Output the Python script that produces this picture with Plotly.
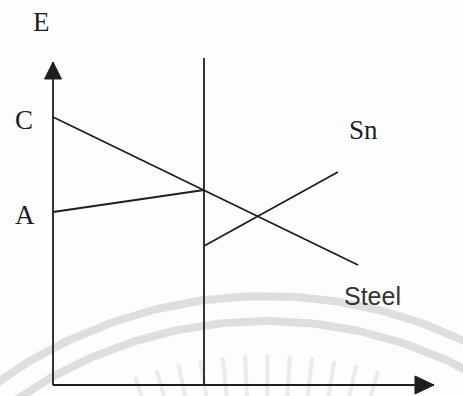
import numpy as np
import plotly.graph_objects as go

# Potential (E) vs. distance across a tin/steel junction.
# x: distance (interface at x = 1), E: potential (arbitrary units)
interface_x = 1.0

steel_x = [0.0, 2.02]
steel_E = [2.68, 1.20]

a_x = [0.0, 1.0]
a_E = [1.73, 1.95]

sn_x = [1.0, 1.887]
sn_E = [1.39, 2.13]

axis_E_top = 3.23      # tip of the E axis arrow
axis_x_end = 2.523     # tip of the distance axis arrow
interface_E_top = 3.27

labels = {"C": (-0.192, 2.65), "A": (-0.185, 1.70)}

# axis scaling (pixels per unit) used for the figure window
W, H = 463, 396
X0_PX, PX_PER_X = 53, 151
Y0_PX, PX_PER_E = 385, 100
x_range = [-X0_PX / PX_PER_X, (W - X0_PX) / PX_PER_X]
E_range = [(Y0_PX - H) / PX_PER_E, Y0_PX / PX_PER_E]


def to_data(px, py):
    px = np.asarray(px, dtype=float)
    py = np.asarray(py, dtype=float)
    return (px - X0_PX) / PX_PER_X, (Y0_PX - py) / PX_PER_E


def to_px(x, e):
    return X0_PX + x * PX_PER_X, Y0_PX - e * PX_PER_E


INK = "#1e1e1e"
fig = go.Figure()

# faint seal printed on the page: two arcs and a fan of rays
cx, cy = 266, 757
for r in (461, 436):
    t = np.linspace(np.radians(-150), np.radians(-20), 300)
    px = cx + r * np.cos(t)
    py = cy + r * np.sin(t)
    xs, es = to_data(px, py)
    fig.add_trace(go.Scatter(x=xs, y=es, mode="lines",
                             line=dict(color="#dedede", width=8),
                             hoverinfo="skip", showlegend=False))
for ang in np.arange(-19, 19, 3.2):
    a = np.radians(ang - 90)
    px = [cx + 360 * np.cos(a), cx + 402 * np.cos(a)]
    py = [cy + 360 * np.sin(a), cy + 402 * np.sin(a)]
    xs, es = to_data(px, py)
    fig.add_trace(go.Scatter(x=xs, y=es, mode="lines",
                             line=dict(color="#ebebeb", width=4),
                             hoverinfo="skip", showlegend=False))

line_style = dict(color=INK, width=1.8)

# axes
fig.add_trace(go.Scatter(x=[0, 0], y=[0, axis_E_top], mode="lines",
                         line=line_style, hoverinfo="skip", showlegend=False))
fig.add_trace(go.Scatter(x=[0, axis_x_end], y=[0, 0], mode="lines",
                         line=line_style, hoverinfo="skip", showlegend=False))

# arrowheads (filled triangles, sized in pixels)
tx, ty = to_px(0, axis_E_top)
xs, es = to_data([tx, tx - 8.5, tx + 8.5, tx], [ty, ty + 17, ty + 17, ty])
fig.add_trace(go.Scatter(x=xs, y=es, mode="lines", fill="toself",
                         fillcolor=INK, line=dict(color=INK, width=1),
                         hoverinfo="skip", showlegend=False))
tx, ty = to_px(axis_x_end, 0)
xs, es = to_data([tx, tx - 19, tx - 19, tx], [ty, ty - 9, ty + 9, ty])
fig.add_trace(go.Scatter(x=xs, y=es, mode="lines", fill="toself",
                         fillcolor=INK, line=dict(color=INK, width=1),
                         hoverinfo="skip", showlegend=False))

# interface
fig.add_trace(go.Scatter(x=[interface_x, interface_x], y=[0, interface_E_top],
                         mode="lines", line=line_style,
                         hoverinfo="skip", showlegend=False))

# potential lines
for xv, ev in ((steel_x, steel_E), (a_x, a_E), (sn_x, sn_E)):
    fig.add_trace(go.Scatter(x=xv, y=ev, mode="lines", line=line_style,
                             hoverinfo="skip", showlegend=False))

serif = dict(family="Liberation Serif", size=27, color=INK)
ann = [
    dict(x=-0.073, y=3.63, text="E", font=serif),
    dict(x=labels["C"][0], y=labels["C"][1], text="C", font=serif),
    dict(x=labels["A"][0], y=labels["A"][1], text="A", font=serif),
    dict(x=2.053, y=2.55, text="Sn", font=serif),
    dict(x=2.113, y=0.89, text="Steel",
         font=dict(family="Liberation Sans", size=25, color="#333")),
]
for a in ann:
    fig.add_annotation(showarrow=False, xanchor="center", yanchor="middle", **a)

fig.update_layout(
    width=W, height=H,
    margin=dict(l=0, r=0, t=0, b=0),
    paper_bgcolor="#fdfdfd", plot_bgcolor="#fdfdfd",
    xaxis=dict(range=x_range, visible=False, fixedrange=True),
    yaxis=dict(range=E_range, visible=False, fixedrange=True),
    showlegend=False,
)

fig.write_html("out.html")
